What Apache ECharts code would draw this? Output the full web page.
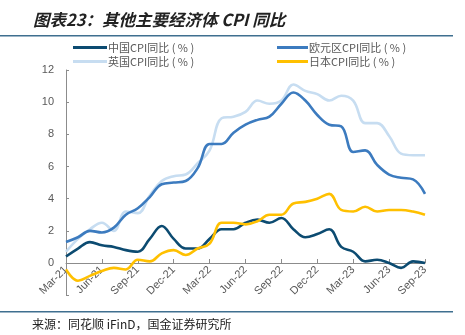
<!DOCTYPE html>
<html><head><meta charset="utf-8">
<script src="https://cdn.jsdelivr.net/npm/echarts@6/dist/echarts.min.js"></script>
<style>html,body{margin:0;padding:0;background:#fff}#c{width:465px;height:335px}</style>
</head><body><div id="c"></div>
<script>
const categories = ['Mar-21','Apr-21','May-21','Jun-21','Jul-21','Aug-21','Sep-21','Oct-21','Nov-21','Dec-21',
  'Jan-22','Feb-22','Mar-22','Apr-22','May-22','Jun-22','Jul-22','Aug-22','Sep-22','Oct-22','Nov-22','Dec-22',
  'Jan-23','Feb-23','Mar-23','Apr-23','May-23','Jun-23','Jul-23','Aug-23','Sep-23'];
const china = [0.4,0.9,1.3,1.1,1.0,0.8,0.7,1.5,2.3,1.5,0.9,0.9,1.5,2.1,2.1,2.5,2.7,2.5,2.8,2.1,1.6,1.8,2.1,1.0,0.7,0.1,0.2,0.0,-0.3,0.1,0.0];
const euro = [1.3,1.6,2.0,1.9,2.2,3.0,3.4,4.1,4.9,5.0,5.1,5.9,7.4,7.4,8.1,8.6,8.9,9.1,9.9,10.6,10.1,9.2,8.6,8.5,6.9,7.0,6.1,5.5,5.3,5.2,4.3];
const uk = [0.7,1.5,2.1,2.5,2.0,3.2,3.1,4.2,5.1,5.4,5.5,6.2,7.0,9.0,9.1,9.4,10.1,9.9,10.1,11.1,10.7,10.5,10.1,10.4,10.1,8.7,8.7,7.9,6.8,6.7,6.7];
const japan = [-0.4,-1.1,-0.8,-0.5,-0.3,-0.4,0.2,0.1,0.6,0.8,0.5,0.9,1.2,2.5,2.5,2.4,2.6,3.0,3.0,3.7,3.8,4.0,4.3,3.3,3.2,3.5,3.2,3.3,3.3,3.2,3.0];
const yTicks = [-2,0,2,4,6,8,10,12];
const names = ['中国CPI同比 ( % )','欧元区CPI同比 ( % )','英国CPI同比 ( % )','日本CPI同比 ( % )'];
const colors = ['#0c4b71','#3c7bbf','#c7ddf1','#ffc000'];

const chart = echarts.init(document.getElementById('c'));
const txt = '#595959';
const axisCol = '#8c8c8c';
function ser(i, data, z){
  return {name:names[i], type:'line', data:data, smooth:0.4, symbol:'none', z:z,
    xAxisIndex:0, yAxisIndex:0,
    lineStyle:{color:colors[i], width:2.6}, itemStyle:{color:colors[i]}};
}
const yMin = yTicks[0], yMax = yTicks[yTicks.length-1];
const plotTop = 70, zeroY = 263;
const pxPer = (zeroY - plotTop) / yMax;
const bottomY = zeroY - yMin * pxPer;
chart.setOption({
  animation:false,
  graphic:[
    {type:'text', left:33, top:11, style:{text:'图表23：其他主要经济体 CPI 同比', font:'italic bold 16.5px "Noto Sans CJK SC"', fill:'#222'}},
    {type:'rect', shape:{x:0,y:35,width:453,height:1.5}, style:{fill:'#3f6f8f'}},
    {type:'rect', shape:{x:0,y:311,width:453,height:1.5}, style:{fill:'#3f6f8f'}},
    {type:'text', left:32, top:318, style:{text:'来源：同花顺 iFinD，国金证券研究所', font:'12px "Noto Sans CJK SC"', fill:'#222'}}
  ],
  legend:[
    {left:68, top:37, orient:'vertical', itemGap:3, itemWidth:34, itemHeight:3, icon:'rect',
     data:[names[0],names[2]], textStyle:{color:txt, fontSize:11, fontFamily:'Noto Sans CJK SC', padding:[0,0,0,-4]}},
    {left:272, top:37, orient:'vertical', itemGap:3, itemWidth:31, itemHeight:3, icon:'rect',
     data:[names[1],names[3]], textStyle:{color:txt, fontSize:11, fontFamily:'Noto Sans CJK SC', padding:[0,0,0,-4]}}
  ],
  grid:[
    {left:66, right:40, top:plotTop, bottom:335 - bottomY},
    {left:66, right:40, top:plotTop, bottom:335 - zeroY}
  ],
  xAxis:[
    {type:'category', gridIndex:0, data:categories, boundaryGap:false,
      axisLine:{show:false}, axisTick:{show:false}, axisLabel:{show:false}},
    {type:'category', gridIndex:1, data:categories, boundaryGap:false,
      axisLine:{lineStyle:{color:axisCol}},
      axisTick:{inside:true, interval:2, length:4, lineStyle:{color:axisCol}},
      axisLabel:{interval:2, rotate:45, color:txt, fontSize:11, fontFamily:'Liberation Sans', margin:5}}
  ],
  yAxis:[
    {type:'value', gridIndex:0, min:yMin, max:yMax, interval:2,
      axisLine:{show:true, onZero:false, lineStyle:{color:axisCol}},
      axisTick:{show:true, inside:true, length:3, lineStyle:{color:axisCol}},
      splitLine:{show:false},
      axisLabel:{color:txt, fontSize:11, fontFamily:'Liberation Sans', margin:12,
        formatter:v => v < 0 ? '' : String(v)}},
    {type:'value', gridIndex:1, min:0, max:yMax, show:false}
  ],
  series:[ser(2, uk, 2), ser(1, euro, 3), ser(0, china, 4), ser(3, japan, 5)]
});
</script></body></html>
